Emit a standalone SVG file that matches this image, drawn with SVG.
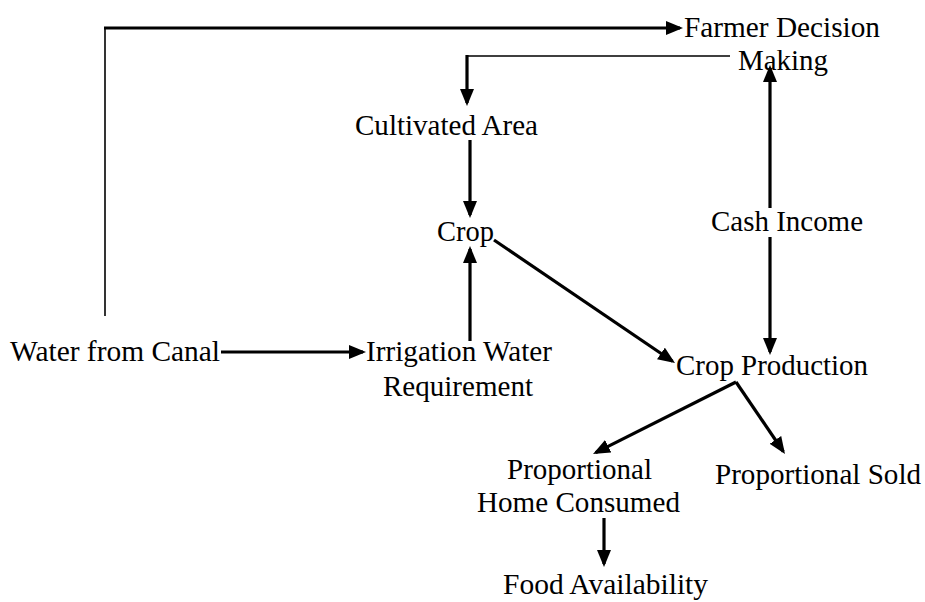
<svg xmlns="http://www.w3.org/2000/svg" width="925" height="602" viewBox="0 0 925 602">
<style>
text{font-family:"Liberation Serif","Times New Roman",serif;font-size:29px;fill:#000}
.c{fill:none;stroke:#000;stroke-width:3.2}
.t{fill:none;stroke:#000;stroke-width:1.6}
</style>
<defs>
<marker id="ah" markerUnits="userSpaceOnUse" markerWidth="17" markerHeight="14" refX="14" refY="7" orient="auto"><path d="M0,0 L17,7 L0,14 z" fill="#000"/></marker>
</defs>
<rect width="925" height="602" fill="#fff"/>
<g id="connectors">
<line class="t" x1="105" y1="316" x2="105" y2="28"/>
<line class="c" x1="104" y1="28" x2="680" y2="28" marker-end="url(#ah)"/>
<polyline class="t" points="730,56 467,56 467,60"/>
<line class="c" x1="467" y1="55" x2="467" y2="103" marker-end="url(#ah)"/>
<line class="c" x1="470" y1="140" x2="470" y2="215" marker-end="url(#ah)"/>
<line class="c" x1="470" y1="341" x2="470" y2="249" marker-end="url(#ah)"/>
<line class="c" x1="221" y1="352" x2="363" y2="352" marker-end="url(#ah)"/>
<line class="c" x1="494" y1="240" x2="672.5" y2="361.3" marker-end="url(#ah)"/>
<line class="c" x1="770" y1="208" x2="770" y2="68" marker-end="url(#ah)"/>
<line class="c" x1="770" y1="237" x2="770" y2="352" marker-end="url(#ah)"/>
<line class="c" x1="736" y1="382" x2="595.7" y2="452.6" marker-end="url(#ah)"/>
<line class="c" x1="736" y1="382" x2="783.3" y2="451.5" marker-end="url(#ah)"/>
<line class="c" x1="604" y1="518" x2="604" y2="564" marker-end="url(#ah)"/>
</g>
<g id="farmer"><text x="684" y="37" textLength="196" lengthAdjust="spacingAndGlyphs">Farmer Decision</text><text x="738" y="70" textLength="90" lengthAdjust="spacingAndGlyphs">Making</text></g>
<g id="cultivated"><text x="355" y="135" textLength="183" lengthAdjust="spacingAndGlyphs">Cultivated Area</text></g>
<g id="crop"><text x="437" y="241" textLength="57" lengthAdjust="spacingAndGlyphs">Crop</text></g>
<g id="cash"><text x="711" y="231" textLength="152" lengthAdjust="spacingAndGlyphs">Cash Income</text></g>
<g id="water"><text x="10" y="361" textLength="210" lengthAdjust="spacingAndGlyphs">Water from Canal</text></g>
<g id="irrigation"><text x="366" y="361" textLength="186" lengthAdjust="spacingAndGlyphs">Irrigation Water</text><text x="383" y="396" textLength="150" lengthAdjust="spacingAndGlyphs">Requirement</text></g>
<g id="production"><text x="676" y="375" textLength="192" lengthAdjust="spacingAndGlyphs">Crop Production</text></g>
<g id="home"><text x="507" y="479" textLength="145" lengthAdjust="spacingAndGlyphs">Proportional</text><text x="477" y="512" textLength="203" lengthAdjust="spacingAndGlyphs">Home Consumed</text></g>
<g id="sold"><text x="715" y="484" textLength="206" lengthAdjust="spacingAndGlyphs">Proportional Sold</text></g>
<g id="food"><text x="503" y="594" textLength="205" lengthAdjust="spacingAndGlyphs">Food Availability</text></g>
</svg>
